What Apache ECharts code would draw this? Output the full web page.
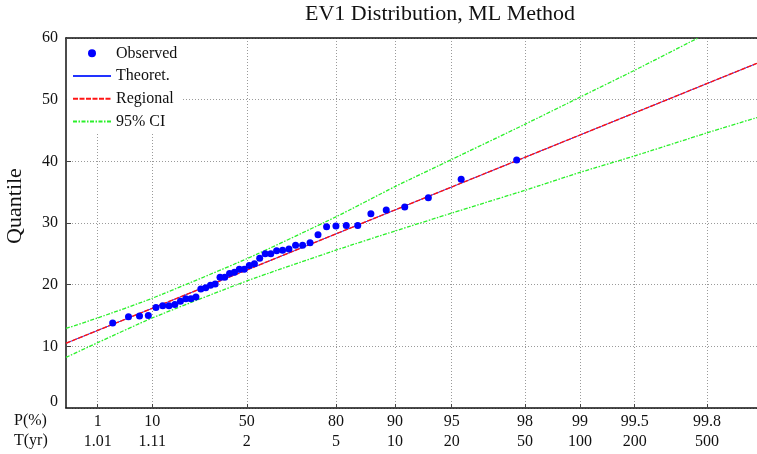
<!DOCTYPE html>
<html>
<head>
<meta charset="utf-8">
<title>EV1 Distribution, ML Method</title>
<script src="https://cdn.jsdelivr.net/npm/echarts@6/dist/echarts.min.js"></script>
<style>
  html, body { margin: 0; padding: 0; background: #fff; }
  #main { width: 757px; height: 454px; }
</style>
</head>
<body>
<div id="main"></div>
<script>
// reduced variate (Gumbel y) of the probability ticks
const tickPos = [-1.527, -0.834, 0.367, 1.500, 2.250, 2.970, 3.902, 4.600, 5.296, 6.214];
const pLabels = ['1', '10', '50', '80', '90', '95', '98', '99', '99.5', '99.8'];
const tLabels = ['1.01', '1.11', '2', '5', '10', '20', '50', '100', '200', '500'];

// observed sample (plotting position as reduced variate, quantile)
const obsX = [-1.337, -1.136, -0.996, -0.884, -0.787, -0.701, -0.621, -0.547, -0.476, -0.408,
  -0.343, -0.279, -0.217, -0.155, -0.094, -0.034, 0.027, 0.087, 0.148, 0.210,
  0.272, 0.335, 0.399, 0.464, 0.531, 0.601, 0.672, 0.746, 0.822, 0.903,
  0.987, 1.076, 1.171, 1.272, 1.381, 1.500, 1.631, 1.777, 1.944, 2.139,
  2.374, 2.674, 3.091, 3.796];
const obsQ = [13.8, 14.8, 14.9, 15.0, 16.3, 16.6, 16.6, 16.8, 17.3, 17.7,
  17.7, 18.0, 19.3, 19.5, 19.9, 20.1, 21.2, 21.2, 21.8, 22.0,
  22.5, 22.5, 23.1, 23.4, 24.3, 25.0, 25.0, 25.5, 25.6, 25.8,
  26.4, 26.4, 26.8, 28.1, 29.4, 29.5, 29.6, 29.6, 31.5, 32.1,
  32.6, 34.1, 37.1, 40.2];

// fitted lines (theoretical and regional coincide)
const fitX = [-1.93, 6.85];
const theoQ = [10.5, 55.9];
const regQ = [10.5, 55.9];

// 95% confidence limits
const ciUpX = [-1.93, -1.527, -0.834, 0.367, 1.5, 2.25, 2.97, 3.9, 4.6, 5.3, 6.10];
const ciUp = [12.9, 14.6, 17.8, 24.2, 31.0, 35.9, 40.3, 46.0, 50.4, 54.8, 60.0];
const ciLoX = [-1.93, -1.527, -0.834, 0.367, 1.5, 2.25, 2.97, 3.9, 4.6, 5.3, 6.21, 6.85];
const ciLo = [8.2, 10.6, 14.6, 20.6, 25.6, 28.7, 31.6, 35.3, 38.2, 40.9, 44.6, 47.1];

const zip = (xs, ys) => xs.map((x, i) => [x, ys[i]]);
const FONT = 'Liberation Serif';
const GREEN = '#2bf02b';

const chart = echarts.init(document.getElementById('main'));
const gridLine = { show: true, lineStyle: { color: '#9a9a9a', type: [1, 2], width: 1 } };
const noDot = { opacity: 0 };

chart.setOption({
  animation: false,
  backgroundColor: '#fff',
  title: {
    text: 'EV1 Distribution, ML Method',
    left: 305, top: 3, padding: 0,
    textStyle: { fontFamily: FONT, fontSize: 22, fontWeight: 'normal', color: '#111' }
  },
  grid: { left: 66, right: 0, top: 38, bottom: 46, outerBoundsMode: 'none' },
  legend: {
    orient: 'vertical', left: 67, top: 40,
    padding: [2, 1, 0, 5],
    itemWidth: 38, itemHeight: 8, itemGap: 0,
    backgroundColor: '#fff',
    textStyle: { fontFamily: FONT, fontSize: 16, color: '#111', lineHeight: 22.7, width: 66 },
    data: [
      { name: 'Observed', icon: 'circle' },
      { name: 'Theoret.', itemStyle: noDot },
      { name: 'Regional', itemStyle: noDot },
      { name: '95% CI', itemStyle: noDot }
    ]
  },
  xAxis: [{
    type: 'value', min: -1.93, max: 6.85,
    axisLine: { onZero: false, lineStyle: { color: '#111', width: 1.5 } },
    axisTick: { inside: true, length: 4, customValues: tickPos, lineStyle: { color: '#444' } },
    axisLabel: {
      customValues: tickPos, margin: 4,
      fontFamily: FONT, fontSize: 16, color: '#111', lineHeight: 20,
      formatter: v => {
        const i = tickPos.findIndex(t => Math.abs(t - v) < 1e-6);
        return i < 0 ? '' : pLabels[i] + '\n' + tLabels[i];
      }
    },
    splitLine: gridLine
  }, {
    type: 'value', min: -1.93, max: 6.85, position: 'top',
    axisLine: { show: true, onZero: false, lineStyle: { color: '#111', width: 1.5 } },
    axisTick: { show: false }, axisLabel: { show: false }, splitLine: { show: false }
  }],
  yAxis: {
    type: 'value', min: 0, max: 60, interval: 10,
    axisLine: { show: true, onZero: false, lineStyle: { color: '#111', width: 1.5 } },
    axisTick: { show: true, inside: true, length: 5, lineStyle: { color: '#444' } },
    axisLabel: {
      margin: 8, fontFamily: FONT, fontSize: 16, color: '#111',
      formatter: v => (v === 0 ? '{z|0}' : String(v)),
      rich: { z: { fontFamily: FONT, fontSize: 16, color: '#111', padding: [0, 0, 13, 0] } }
    },
    splitLine: gridLine
  },
  graphic: [
    { type: 'text', left: 14, top: 413, style: { text: 'P(%)', font: '16px ' + FONT, fill: '#111' } },
    { type: 'text', left: 14, top: 433, style: { text: 'T(yr)', font: '16px ' + FONT, fill: '#111' } },
    {
      type: 'text', x: 15, y: 206, rotation: Math.PI / 2,
      style: { text: 'Quantile', font: '22px ' + FONT, fill: '#111', align: 'center', verticalAlign: 'middle' }
    }
  ],
  series: [
    {
      name: 'Observed', type: 'scatter', data: zip(obsX, obsQ),
      symbolSize: 7, itemStyle: { color: '#0000ff', opacity: 1 }, z: 5
    },
    {
      name: 'Theoret.', type: 'line', data: zip(fitX, theoQ), symbol: 'none',
      lineStyle: { color: '#2233ff', width: 1 }
    },
    {
      name: 'Regional', type: 'line', data: zip(fitX, regQ), symbol: 'none',
      lineStyle: { color: '#ff1414', width: 1.4, type: [5, 1.5] }
    },
    {
      name: '95% CI', type: 'line', data: zip(ciUpX, ciUp), symbol: 'none', smooth: 0.2,
      lineStyle: { color: GREEN, width: 1.3, type: [4, 1.5, 1.5, 1.5] }, itemStyle: { color: GREEN }
    },
    {
      name: '95% CI', type: 'line', data: zip(ciLoX, ciLo), symbol: 'none', smooth: 0.2,
      lineStyle: { color: GREEN, width: 1.3, type: [4, 1.5, 1.5, 1.5] }, itemStyle: { color: GREEN }
    }
  ]
});
</script>
</body>
</html>
